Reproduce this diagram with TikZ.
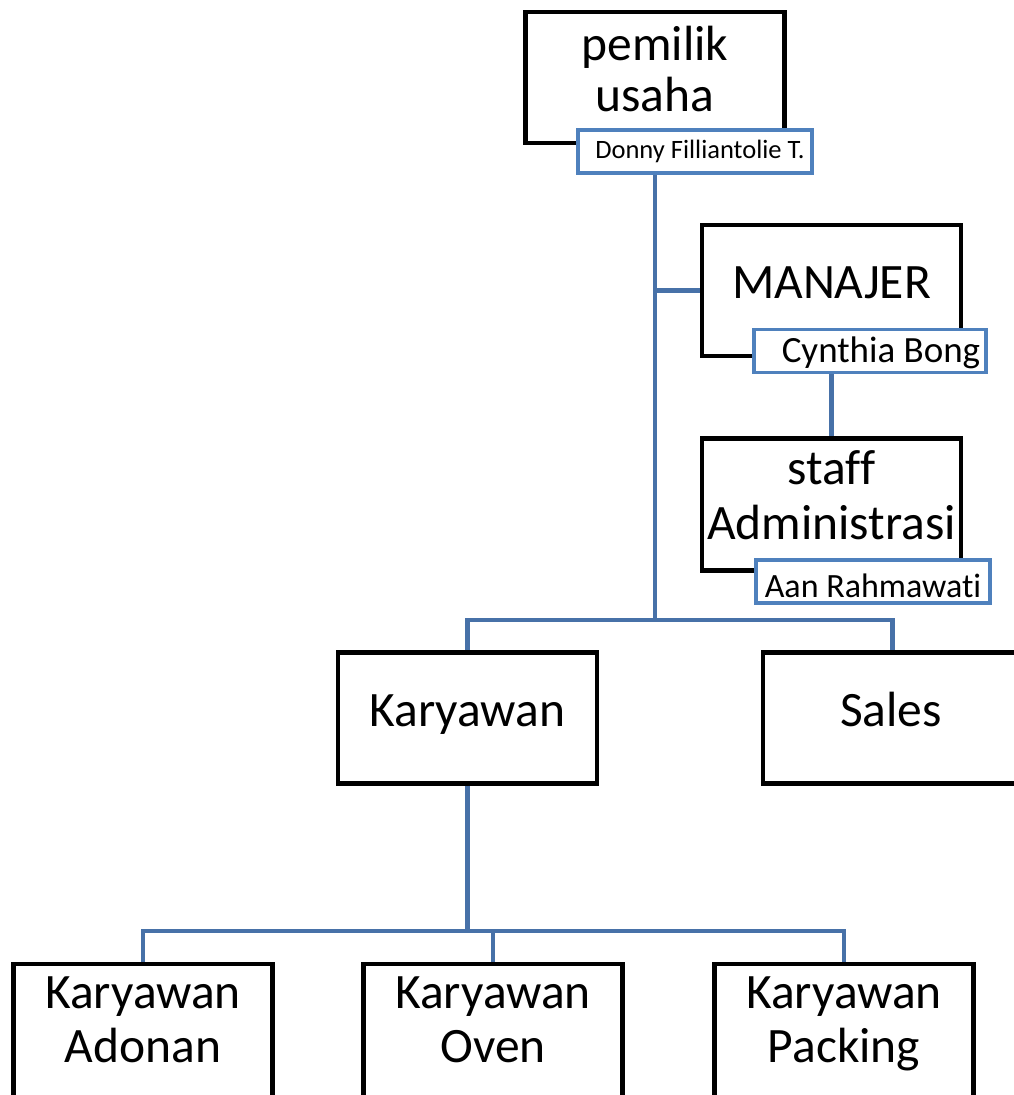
\documentclass[tikz,border=0pt]{standalone}
\usepackage{fontspec}
\setmainfont{Carlito}[Ligatures=NoCommon]
\usetikzlibrary{backgrounds}
\definecolor{linkblue}{HTML}{4771A8}
\definecolor{tagblue}{HTML}{4F81BD}
\tikzset{
  unitbox/.style={draw=black, line width=4.8pt, fill=white, minimum width=259pt, minimum height=131pt, inner sep=0pt},
  tagbox/.style={draw=tagblue, line width=3.8pt, fill=white, minimum width=234pt, minimum height=43pt, inner sep=0pt},
  bigtxt/.style={anchor=base, inner sep=0pt, font=\fontsize{49.5}{55}\selectfont},
  tagtxt/.style={anchor=base, inner sep=0pt, font=\fontsize{35}{40}\selectfont},
  link/.style={draw=linkblue, line width=4.5pt}
}
\begin{document}
\begin{tikzpicture}[x=1pt,y=-1pt]
\useasboundingbox (0,0) rectangle (1014,1095);
\clip (0,0) rectangle (1014,1095);
% boxes
\node[unitbox] (owner) at (655,77.5) {};
\node[unitbox] (manager) at (831.5,290.5) {};
\node[unitbox, minimum height=132.5pt] (staff) at (831.5,504.5) {};
\node[unitbox] (karyawan) at (467.5,718) {};
\node[unitbox] (sales) at (892.5,718) {};
\node[unitbox, minimum height=170pt] (adonan) at (143,1049) {};
\node[unitbox, minimum height=170pt] (oven) at (493,1049) {};
\node[unitbox, minimum height=170pt] (packing) at (844,1049) {};
% tags
\node[tagbox] (donny) at (695,151.5) {};
\node[tagbox, minimum width=232pt] (cynthia) at (870,351) {};
\node[tagbox] (aan) at (873,581.5) {};
% texts
\node[bigtxt] (t1a) at (655,60) {pemilik};
\node[bigtxt] (t1b) at (655,111) {usaha};
\node[bigtxt] (t2) at (831.5,298) {MANAJER};
\node[bigtxt] (t3a) at (831.5,484) {staff};
\node[bigtxt] (t3b) at (831.5,539) {Administrasi};
\node[bigtxt] (t4) at (467.5,726) {Karyawan};
\node[bigtxt] (t5) at (891,726) {Sales};
\node[bigtxt] (t6a) at (143,1008) {Karyawan};
\node[bigtxt] (t6b) at (143,1062) {Adonan};
\node[bigtxt] (t7a) at (493,1008) {Karyawan};
\node[bigtxt] (t7b) at (493,1062) {Oven};
\node[bigtxt] (t8a) at (844,1008) {Karyawan};
\node[bigtxt] (t8b) at (844,1062) {Packing};
\node[anchor=base, inner sep=0pt, font=\fontsize{26.5}{30}\selectfont] (tdonny) at (700,158) {Donny Filliantolie T.};
\node[tagtxt, font=\fontsize{37}{40}\selectfont] (tcynthia) at (881,362) {Cynthia Bong};
\node[tagtxt, font=\fontsize{34}{40}\selectfont] (taan) at (873,597) {Aan Rahmawati};
% connectors
\coordinate (bus1) at (655,620);
\coordinate (bus2) at (467.5,931);
\begin{pgfonlayer}{background}
\fill[white] (0,0) rectangle (1014,1095);
\draw[link] (owner.center |- donny.south) -- (bus1);
\draw[link] (bus1 |- manager.west) -- (manager.west);
\draw[link] (staff.north |- cynthia.south) -- (staff.north);
\draw[link] (karyawan.north) |- (bus1) -| (sales.north);
\draw[link] (karyawan.south) -- (bus2);
\draw[link] (adonan.north) |- (bus2) -| (packing.north);
\draw[link] (bus2) -| (oven.north);
\end{pgfonlayer}
\end{tikzpicture}
\end{document}
